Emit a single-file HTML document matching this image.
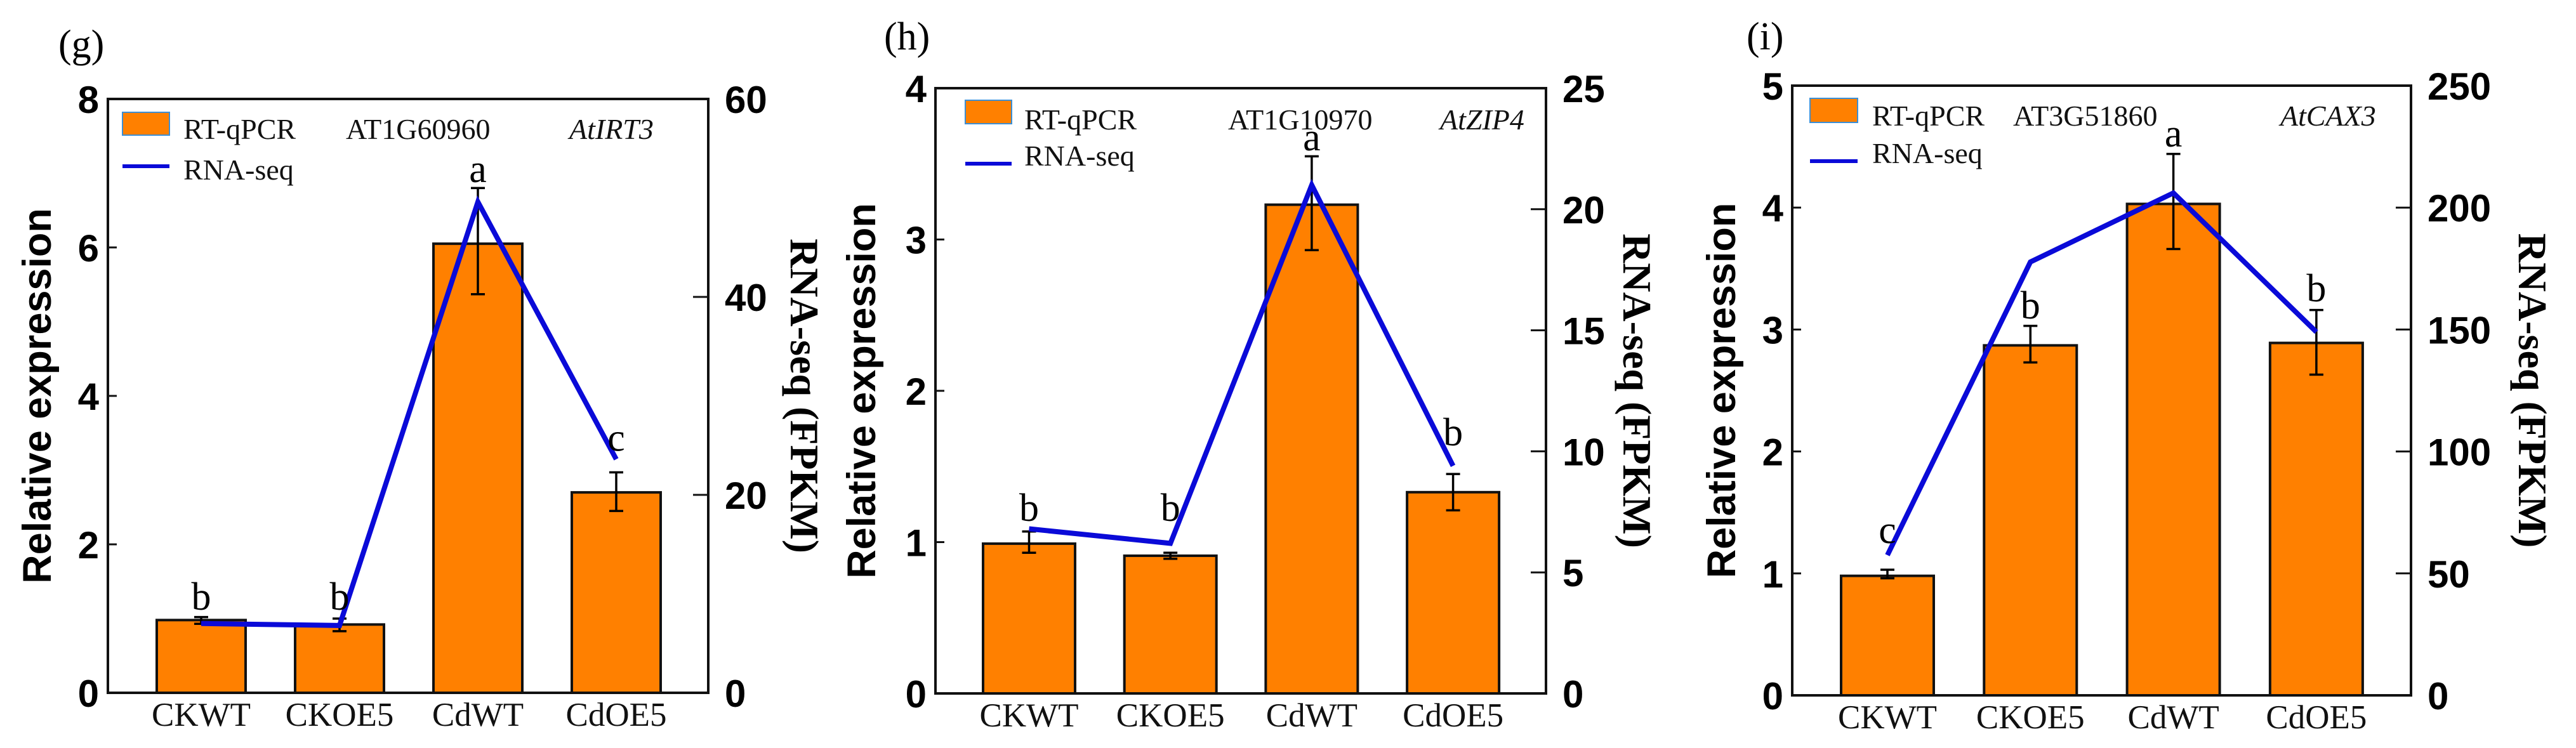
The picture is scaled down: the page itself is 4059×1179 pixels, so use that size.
<!DOCTYPE html>
<html><head><meta charset="utf-8"><style>
html,body{margin:0;padding:0;background:#fff;}
svg{display:block;}
.tick{font-family:"Liberation Sans",sans-serif;font-weight:bold;font-size:60px;fill:#000;}
.cat{font-family:"Liberation Serif",serif;font-size:53px;fill:#111;}
.leg{font-family:"Liberation Serif",serif;font-size:46px;fill:#111;}
.ttl{font-family:"Liberation Sans",sans-serif;font-weight:bold;font-size:63px;fill:#000;}
.ttr{font-family:"Liberation Serif",serif;font-weight:bold;font-size:64px;fill:#000;}
.let{font-family:"Liberation Serif",serif;font-size:62px;fill:#000;}
.pl{font-family:"Liberation Serif",serif;font-size:62px;fill:#000;}
</style></head><body>
<svg id="chart" width="4059" height="1179" viewBox="0 0 4059 1179" xmlns="http://www.w3.org/2000/svg"></svg>
<script>
const categories = ["CKWT","CKOE5","CdWT","CdOE5"];
const gBars = [0.98,0.92,6.05,2.70];
const gErrHi = [1.02,1.0,6.8,2.97];
const gErrLo = [0.93,0.83,5.37,2.45];
const gLine = [7.0,6.8,49.6,23.6];
const gLetters = ["b","b","a","c"];
const gLetterY = [1.12,1.12,6.88,3.26];
const gLeftTicks = [0,2,4,6,8];
const gRightTicks = [0,20,40,60];
const hBars = [0.99,0.91,3.23,1.33];
const hErrHi = [1.07,0.93,3.55,1.45];
const hErrLo = [0.93,0.89,2.93,1.21];
const hLine = [6.8,6.2,21.0,9.4];
const hLetters = ["b","b","a","b"];
const hLetterY = [1.14,1.14,3.59,1.64];
const hLeftTicks = [0,1,2,3,4];
const hRightTicks = [0,5,10,15,20,25];
const iBars = [0.98,2.87,4.03,2.89];
const iErrHi = [1.03,3.03,4.44,3.16];
const iErrLo = [0.96,2.73,3.66,2.63];
const iLine = [57.5,177.7,206,149];
const iLetters = ["c","b","a","b"];
const iLetterY = [1.25,3.09,4.5,3.23];
const iLeftTicks = [0,1,2,3,4,5];
const iRightTicks = [0,50,100,150,200,250];

const NS="http://www.w3.org/2000/svg";
const svg=document.getElementById('chart');
function mk(tag,attrs,parent,text){const e=document.createElementNS(NS,tag);for(const k in attrs)e.setAttribute(k,attrs[k]);if(text!==undefined)e.textContent=text;(parent||svg).appendChild(e);return e;}

const panels=[
 {id:'g',label:'(g)',lx:92,ly:90,L:170,R:1116,T:156,B:1092,barL:247,step:218,bw:140,
  bars:gBars,hi:gErrHi,lo:gErrLo,line:gLine,letters:gLetters,letY:gLetterY,lt:gLeftTicks,rt:gRightTicks,
  sw:[193,177,74,36],legX:289,legY:[204,268],gene:'AT1G60960',geneX:545,sym:'AtIRT3',symX:897,ltx:58,rtx:1268},
 {id:'h',label:'(h)',lx:1393,ly:78,L:1474,R:2436,T:139,B:1093,barL:1549,step:222.7,bw:145,
  bars:hBars,hi:hErrHi,lo:hErrLo,line:hLine,letters:hLetters,letY:hLetterY,lt:hLeftTicks,rt:hRightTicks,
  sw:[1521,158,73,37],legX:1614,legY:[189,246],gene:'AT1G10970',geneX:1935,sym:'AtZIP4',symX:2269,ltx:1357,rtx:2580},
 {id:'i',label:'(i)',lx:2752,ly:78,L:2824,R:3799,T:135,B:1096,barL:2901,step:225.3,bw:146,
  bars:iBars,hi:iErrHi,lo:iErrLo,line:iLine,letters:iLetters,letY:iLetterY,lt:iLeftTicks,rt:iRightTicks,
  sw:[2852,155,75,38],legX:2950,legY:[183,242],gene:'AT3G51860',geneX:3172,sym:'AtCAX3',symX:3593,ltx:2712,rtx:3991}
];

panels.forEach(p=>{
  const g=mk('g',{});
  
  
  const lmax=p.lt[p.lt.length-1], rmax=p.rt[p.rt.length-1];
  const yL=v=>p.B-(v/lmax)*(p.B-p.T);
  const yR=v=>p.B-(v/rmax)*(p.B-p.T);
  const xc=i=>p.barL+p.bw/2+i*p.step;
  const pl=mk('text',{x:p.lx,y:p.ly,class:'pl'},g,p.label);
  
  
  p.bars.forEach((v,i)=>{
    const r=mk('rect',{x:xc(i)-p.bw/2,y:yL(v),width:p.bw,height:p.B-yL(v),fill:'#FF8000',stroke:'#111',"stroke-width":4},g);
    
    
  });
  p.bars.forEach((v,i)=>{
    const x=xc(i);
    const e=mk('path',{d:`M${x} ${yL(p.hi[i])}V${yL(p.lo[i])}M${x-11} ${yL(p.hi[i])}H${x+11}M${x-11} ${yL(p.lo[i])}H${x+11}`,stroke:'#000',"stroke-width":3.5,fill:'none'},g);
    
    
  });
  const pts=p.line.map((v,i)=>xc(i)+','+yR(v)).join(' ');
  const ln=mk('polyline',{points:pts,fill:'none',stroke:'#0a0ad8',"stroke-width":8,"stroke-linejoin":'miter'},g);
  
  
  p.letters.forEach((t,i)=>{
    const lt=mk('text',{x:xc(i),y:yL(p.letY[i]),class:'let',"text-anchor":'middle'},g,t);
    
    
  });
  const fr=mk('rect',{x:p.L,y:p.T,width:p.R-p.L,height:p.B-p.T,fill:'none',stroke:'#111',"stroke-width":4},g);
  
  
  p.lt.forEach(v=>{
    mk('line',{x1:p.L,x2:p.L+14,y1:yL(v),y2:yL(v),stroke:'#111',"stroke-width":3},g);
    const t=mk('text',{x:p.L-14,y:yL(v)+22,class:'tick',"text-anchor":'end'},g,String(v));
    
    
  });
  p.rt.forEach(v=>{
    mk('line',{x1:p.R,x2:p.R-24,y1:yR(v),y2:yR(v),stroke:'#111',"stroke-width":3},g);
    const t=mk('text',{x:p.R+26,y:yR(v)+22,class:'tick'},g,String(v));
    
    
  });
  categories.forEach((c,i)=>{
    const t=mk('text',{x:xc(i),y:p.B+52,class:'cat',"text-anchor":'middle'},g,c);
    
    
  });
  const cy=(p.T+p.B)/2;
  const tl=mk('text',{x:0,y:0,class:'ttl',"text-anchor":'middle',transform:`translate(${p.ltx+22},${cy}) rotate(-90)`},g,'Relative expression');
  
  
  const tr=mk('text',{x:0,y:0,class:'ttr',"text-anchor":'middle',transform:`translate(${p.rtx-22},${cy}) rotate(90)`},g,'RNA-seq (FPKM)');
  
  
  const s=p.sw;
  const sq=mk('rect',{x:s[0],y:s[1],width:s[2],height:s[3],fill:'#FF8000',stroke:'#3b8fd6',"stroke-width":2},g);
  
  
  const t1=mk('text',{x:p.legX,y:p.legY[0]+15,class:'leg'},g,'RT-qPCR');
  
  
  const ly=p.legY[1]+(p.id==='g'?-6:12);
  const ls=mk('line',{x1:s[0],x2:s[0]+s[2],y1:ly,y2:ly,stroke:'#0a0ad8',"stroke-width":6},g);
  
  
  const t2=mk('text',{x:p.legX,y:p.legY[1]+15,class:'leg'},g,'RNA-seq');
  
  
  const gn=mk('text',{x:p.geneX,y:p.legY[0]+15,class:'leg'},g,p.gene);
  
  
  const sy=mk('text',{x:p.symX,y:p.legY[0]+15,class:'leg',"font-style":'italic'},g,p.sym);
  
  
});
</script>
</body></html>
